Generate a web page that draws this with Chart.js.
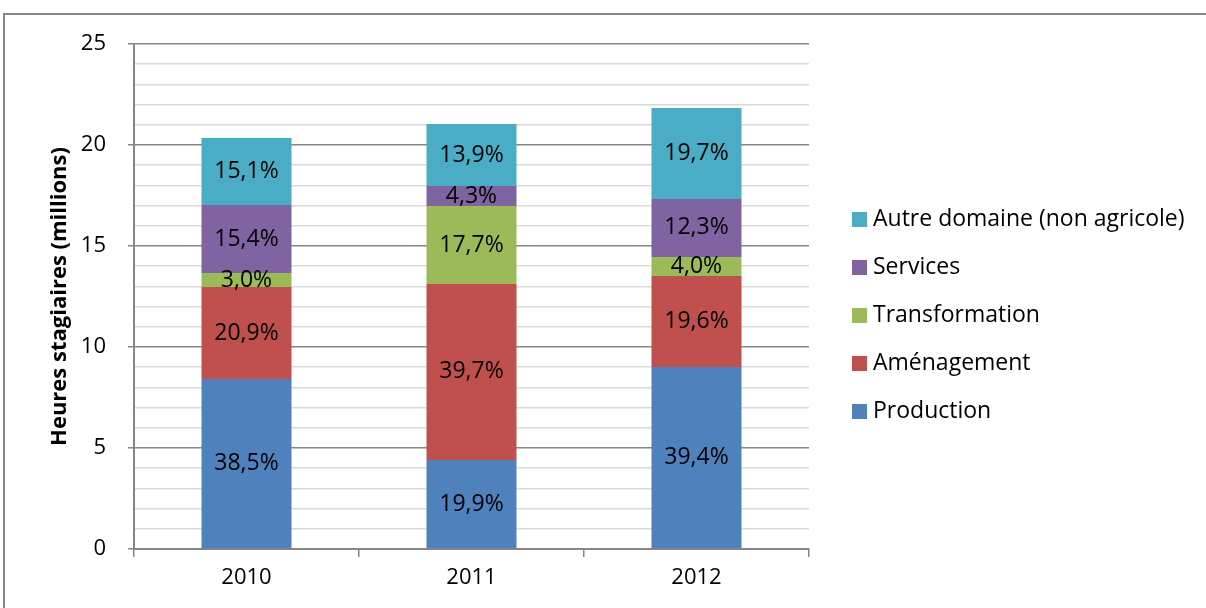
<!DOCTYPE html>
<html>
<head>
<meta charset="utf-8">
<script src="https://cdn.jsdelivr.net/npm/chart.js@4/dist/chart.umd.min.js"></script>
<style>
  html, body { margin: 0; padding: 0; background: #fff; }
  #wrap { width: 1206px; height: 608px; position: relative; }
</style>
</head>
<body>
<div id="wrap"><canvas id="chart" width="1206" height="608"></canvas></div>
<script>
// Values (millions of trainee hours)
const years = ["2010", "2011", "2012"];
const production     = [8.42, 4.41, 9.01];
const amenagement    = [4.55, 8.71, 4.50];
const transformation = [0.69, 3.86, 0.95];
const services       = [3.37, 0.99, 2.87];
const autre          = [3.32, 3.07, 4.50];

// Percent labels printed on the segments
const productionPct     = ["38,5%", "19,9%", "39,4%"];
const amenagementPct    = ["20,9%", "39,7%", "19,6%"];
const transformationPct = ["3,0%", "17,7%", "4,0%"];
const servicesPct       = ["15,4%", "4,3%", "12,3%"];
const autrePct          = ["15,1%", "13,9%", "19,7%"];

const FONT = "'Open Sans', 'Noto Sans', sans-serif";
const AXIS_GREY = "#868686";

// segment labels
const segmentLabels = {
    id: "segmentLabels",
    afterDatasetsDraw(chart) {
        const ctx = chart.ctx;
        ctx.save();
        ctx.font = "23px " + FONT;
        ctx.fillStyle = "#000";
        ctx.textAlign = "center";
        ctx.textBaseline = "middle";
        chart.data.datasets.forEach((ds, i) => {
            const meta = chart.getDatasetMeta(i);
            meta.data.forEach((bar, j) => {
                ctx.fillText(ds.pctLabels[j], bar.x, (bar.y + bar.base) / 2);
            });
        });
        ctx.restore();
    }
};

// frame + legend on the right
const frameAndLegend = {
    id: "frameAndLegend",
    afterDraw(chart) {
        const ctx = chart.ctx;
        ctx.save();
        ctx.strokeStyle = AXIS_GREY;
        ctx.lineWidth = 2;
        ctx.beginPath();
        ctx.moveTo(4, 608);
        ctx.lineTo(4, 14);
        ctx.lineTo(1206, 14);
        ctx.stroke();

        ctx.font = "23px " + FONT;
        ctx.textBaseline = "middle";
        ctx.textAlign = "left";
        const items = chart.data.datasets.slice().reverse();
        items.forEach((ds, k) => {
            const y = 219 + k * 48;
            ctx.fillStyle = ds.backgroundColor;
            ctx.fillRect(852, y - 7, 15, 15);
            ctx.fillStyle = "#000";
            ctx.fillText(ds.label, 873, y);
        });
        ctx.restore();
    }
};

new Chart(document.getElementById("chart"), {
    type: "bar",
    data: {
        labels: years,
        datasets: [
            { label: "Production", data: production, pctLabels: productionPct, backgroundColor: "#4F81BD" },
            { label: "Aménagement", data: amenagement, pctLabels: amenagementPct, backgroundColor: "#C0504D" },
            { label: "Transformation", data: transformation, pctLabels: transformationPct, backgroundColor: "#9BBB59" },
            { label: "Services", data: services, pctLabels: servicesPct, backgroundColor: "#8064A2" },
            { label: "Autre domaine (non agricole)", data: autre, pctLabels: autrePct, backgroundColor: "#4BACC6" }
        ]
    },
    options: {
        responsive: false,
        animation: false,
        events: [],
        layout: { padding: { left: 0, top: 44, right: 397, bottom: 0 } },
        datasets: { bar: { categoryPercentage: 1, barPercentage: 0.4 } },
        plugins: { legend: { display: false }, tooltip: { enabled: false } },
        scales: {
            x: {
                stacked: true,
                afterFit(s) { s.height = 59; },
                border: { color: AXIS_GREY, width: 2 },
                grid: { offset: true, drawOnChartArea: false, tickLength: 8, color: AXIS_GREY, lineWidth: 1.5 },
                ticks: { color: "#000", font: { family: FONT, size: 22 }, padding: 8 }
            },
            y: {
                stacked: true,
                min: 0,
                max: 25,
                afterFit(s) { s.width = 134; },
                border: { color: AXIS_GREY, width: 2 },
                grid: {
                    color: c => c.tick.value % 5 === 0 ? AXIS_GREY : "#d9d9d9",
                    tickColor: c => c.tick.value % 5 === 0 ? AXIS_GREY : "rgba(0,0,0,0)",
                    lineWidth: 1.5,
                    tickLength: 6
                },
                ticks: {
                    stepSize: 1,
                    autoSkip: false,
                    color: "#000",
                    font: { family: FONT, size: 22 },
                    padding: 22,
                    callback: v => v % 5 === 0 ? v : ""
                },
                title: {
                    display: true,
                    text: "Heures stagiaires (millions)",
                    color: "#000",
                    font: { family: FONT, size: 22, weight: "bold" },
                    padding: { top: 47, bottom: 0 }
                }
            }
        }
    },
    plugins: [segmentLabels, frameAndLegend]
});
</script>
</body>
</html>
